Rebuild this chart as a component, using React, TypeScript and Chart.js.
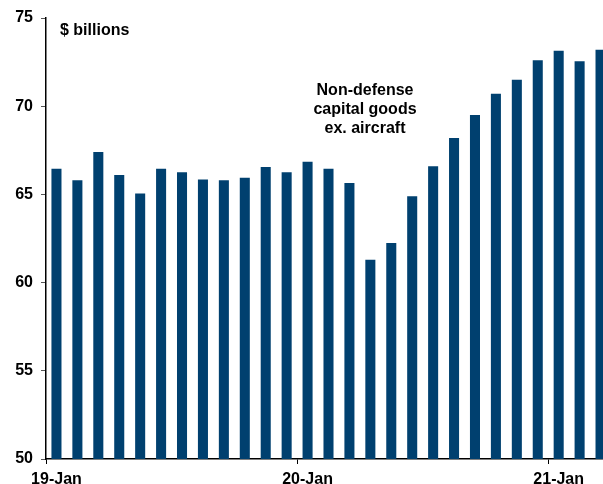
import React, { useEffect, useRef } from "react";
import { Chart, registerables } from "chart.js";

Chart.register(...registerables);

const months = ["Jan", "Feb", "Mar", "Apr", "May", "Jun", "Jul", "Aug", "Sep", "Oct", "Nov", "Dec"];
const years = ["19", "20", "21"];
const categories: string[] = [];
years.forEach((y) => months.forEach((m) => categories.push(`${y}-${m}`)));
const labels = categories.slice(0, 27);

const values = [
  66.45, 65.8, 67.4, 66.1, 65.05, 66.45, 66.25, 65.85, 65.8, 65.95, 66.55, 66.25,
  66.85, 66.45, 65.65, 61.3, 62.25, 64.9, 66.6, 68.2, 69.5, 70.7, 71.5, 72.6,
  73.15, 72.55, 73.2,
];

const yMin = 50;
const yMax = 75;
const yStep = 5;

const unitLabel = "$ billions";
const annotationLines = ["Non-defense", "capital goods", "ex. aircraft"];

const FONT = '"Liberation Sans", Arial, sans-serif';
const BAR = "#00406F";

export default function App() {
  const ref = useRef<HTMLCanvasElement | null>(null);
  useEffect(() => {
    if (!ref.current) return;
    const textPlugin = {
      id: "texts",
      afterDraw(chart: any) {
        const ctx = chart.ctx;
        ctx.save();
        ctx.fillStyle = "#000";
        ctx.font = `bold 16px ${FONT}`;
        ctx.textBaseline = "middle";
        ctx.textAlign = "left";
        ctx.fillText(unitLabel, 60, 31);
        ctx.textAlign = "center";
        annotationLines.forEach((l, i) => ctx.fillText(l, 365, 91 + i * 19));
        ctx.restore();
      },
    };
    const chart = new Chart(ref.current, {
      type: "bar",
      data: {
        labels,
        datasets: [
          {
            data: values,
            backgroundColor: BAR,
            borderWidth: 0,
            categoryPercentage: 1,
            barPercentage: 0.48,
          },
        ],
      },
      options: {
        responsive: false,
        animation: false,
        layout: { padding: { top: 18, right: 0, left: 0, bottom: 0 } },
        plugins: { legend: { display: false }, tooltip: { enabled: false } },
        scales: {
          x: {
            offset: true,
            afterFit: (s: any) => {
              s.height = 25;
            },
            border: { color: "#000", width: 1.5 },
            grid: {
              offset: true,
              drawOnChartArea: false,
              drawTicks: true,
              tickLength: 5,
              color: (c: any) => (c.index % 12 === 0 ? "#000" : "rgba(0,0,0,0)"),
            },
            ticks: {
              autoSkip: false,
              maxRotation: 0,
              padding: 6,
              color: "#000",
              font: { family: FONT, size: 16, weight: "bold" },
              callback: (_v: any, i: number) => {
                const l = labels[i];
                if (!l.endsWith("Jan")) return "";
                return l;
              },
            },
          },
          y: {
            min: yMin,
            max: yMax,
            afterFit: (s: any) => {
              s.width = 46;
            },
            border: { color: "#000", width: 1.5 },
            grid: {
              drawOnChartArea: false,
              drawTicks: true,
              tickLength: 5,
              color: "#555",
            },
            ticks: {
              stepSize: yStep,
              padding: 8,
              color: "#000",
              font: { family: FONT, size: 16, weight: "bold" },
            },
          },
        },
      },
      plugins: [textPlugin],
    });
    return () => chart.destroy();
  }, []);
  return (
    <div
      style={{
        position: "fixed",
        left: 0,
        top: 0,
        width: 603,
        height: 484,
        overflow: "hidden",
        background: "#fff",
      }}
    >
      <canvas ref={ref} width={611} height={484} style={{ display: "block" }} />
    </div>
  );
}
